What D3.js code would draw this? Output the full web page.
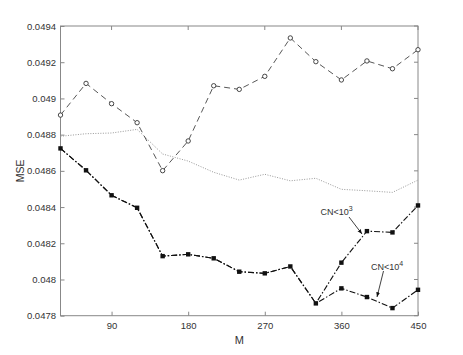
<!DOCTYPE html>
<html>
<head>
<meta charset="utf-8">
<script src="https://cdn.jsdelivr.net/npm/d3@7"></script>
<style>
  body { margin: 0; background: #fff; }
  svg text { font-family: "Liberation Sans", Arial, sans-serif; fill: #333; }
</style>
</head>
<body>
<svg width="463" height="355"></svg>
<script>
const svg = d3.select('svg');

const mValues = [30, 60, 90, 120, 150, 180, 210, 240, 270, 300, 330, 360, 390, 420, 450];
const circleSeries = [0.048908, 0.049083, 0.048971, 0.048866, 0.048601, 0.048765, 0.04907, 0.04905,
    0.049122, 0.049334, 0.049203, 0.049102, 0.049207, 0.049164, 0.049269];
const dottedSeries = [0.048791, 0.048805, 0.048809, 0.048829, 0.048693, 0.048654, 0.048592, 0.048549,
    0.048581, 0.048545, 0.048559, 0.048498, 0.04849, 0.048481, 0.048549];
const cn3Series = [0.048724, 0.048603, 0.048465, 0.048396, 0.048129, 0.048139, 0.048117, 0.048043,
    0.048034, 0.048072, 0.047868, 0.048093, 0.048267, 0.04826, 0.048409];
const cn4Series = [0.048724, 0.048603, 0.048465, 0.048396, 0.048129, 0.048139, 0.048117, 0.048043,
    0.048034, 0.048072, 0.047868, 0.047951, 0.047903, 0.047842, 0.047943];
const xTicks = [90, 180, 270, 360, 450];
const yTicks = [0.0478, 0.048, 0.0482, 0.0484, 0.0486, 0.0488, 0.049, 0.0492, 0.0494];

const margin = { top: 26, right: 45, bottom: 39, left: 60.5 };
const innerWidth = 418 - margin.left;
const innerHeight = 315.7 - margin.top;

const xScale = d3.scaleLinear().domain([30, 450]).range([0, innerWidth]);
const yScale = d3.scaleLinear().domain([0.0478, 0.0494]).range([innerHeight, 0]);

const g = svg.append('g')
    .attr('transform', `translate(${margin.left},${margin.top})`);

const axisColor = '#888';

// frame
g.append('rect')
    .attr('width', innerWidth).attr('height', innerHeight)
    .attr('fill', 'none').attr('stroke', axisColor).attr('stroke-width', 1);

const fmt = d => d3.format('.4~f')(d);

const xAxis = d3.axisBottom(xScale).tickValues(xTicks).tickSize(-4).tickPadding(7);
const yAxis = d3.axisLeft(yScale).tickValues(yTicks).tickSize(-4).tickPadding(4.5).tickFormat(fmt);

const xAxisG = g.append('g').attr('transform', `translate(0,${innerHeight})`).call(xAxis);
const yAxisG = g.append('g').call(yAxis);

// inward ticks on top and right edges
g.selectAll('.top-tick').data(xTicks).enter().append('line')
    .attr('x1', d => xScale(d)).attr('x2', d => xScale(d))
    .attr('y1', 0).attr('y2', 4);
g.selectAll('.right-tick').data(yTicks).enter().append('line')
    .attr('x1', innerWidth).attr('x2', innerWidth - 4)
    .attr('y1', d => yScale(d)).attr('y2', d => yScale(d));

g.selectAll('.domain').remove();
g.selectAll('line').attr('stroke', axisColor);
g.selectAll('.tick text').attr('font-size', 9.5).attr('fill', '#333');

xAxisG.append('text')
    .attr('x', xScale(240)).attr('y', 28)
    .attr('text-anchor', 'middle').attr('font-size', 11)
    .text('M');

yAxisG.append('text')
    .attr('transform', 'rotate(-90)')
    .attr('x', -yScale(0.0486)).attr('y', -37)
    .attr('text-anchor', 'middle').attr('font-size', 10.5)
    .text('MSE');

const line = d3.line()
    .x((d, i) => xScale(mValues[i]))
    .y(d => yScale(d));

g.append('path').attr('d', line(dottedSeries))
    .attr('fill', 'none').attr('stroke', '#999').attr('stroke-width', 1)
    .attr('stroke-dasharray', '1,1.5');

g.append('path').attr('d', line(circleSeries))
    .attr('fill', 'none').attr('stroke', '#444').attr('stroke-width', 0.9)
    .attr('stroke-dasharray', '6,4');

[cn3Series, cn4Series].forEach(s => {
    g.append('path').attr('d', line(s))
        .attr('fill', 'none').attr('stroke', '#111').attr('stroke-width', 1.1)
        .attr('stroke-dasharray', '6,2,1.5,2');
});

g.selectAll('.circ').data(circleSeries).enter().append('circle')
    .attr('cx', (d, i) => xScale(mValues[i])).attr('cy', d => yScale(d))
    .attr('r', 2.2).attr('fill', '#fff').attr('stroke', '#333').attr('stroke-width', 0.9);

const sq = [...cn3Series.map((d, i) => [mValues[i], d]), ...cn4Series.slice(11).map((d, i) => [mValues[i + 11], d])];
g.selectAll('.sq').data(sq).enter().append('rect')
    .attr('x', d => xScale(d[0]) - 2.2).attr('y', d => yScale(d[1]) - 2.2)
    .attr('width', 4.4).attr('height', 4.4).attr('fill', '#111');

// annotations
svg.append('defs').append('marker')
    .attr('id', 'arr').attr('viewBox', '0 0 10 10').attr('refX', 10).attr('refY', 5)
    .attr('markerWidth', 6).attr('markerHeight', 6).attr('orient', 'auto')
    .append('path').attr('d', 'M0,1 L10,5 L0,9 Z').attr('fill', '#111');

const ann = [
    { text: 'CN<10', sup: '3', x: 320.5, y: 215, from: [349, 217], to: [362, 234] },
    { text: 'CN<10', sup: '4', x: 371, y: 269.5, from: [383.5, 271], to: [377, 297] }
];
ann.forEach(a => {
    const t = svg.append('text').attr('x', a.x).attr('y', a.y).attr('font-size', 9);
    t.append('tspan').text(a.text);
    t.append('tspan').attr('dy', -4).attr('font-size', 7).text(a.sup);
    svg.append('line')
        .attr('x1', a.from[0]).attr('y1', a.from[1]).attr('x2', a.to[0]).attr('y2', a.to[1])
        .attr('stroke', '#111').attr('stroke-width', 0.8).attr('marker-end', 'url(#arr)');
});
</script>
</body>
</html>
